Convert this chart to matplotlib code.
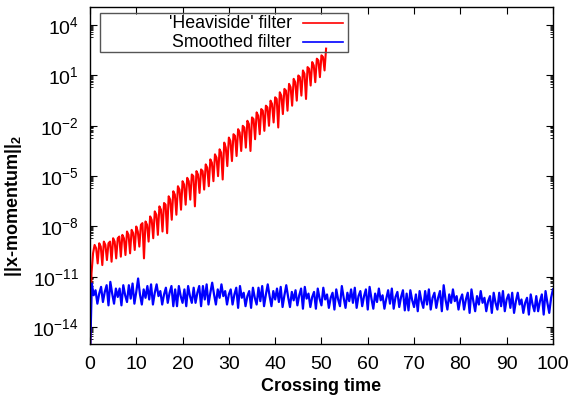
# Import libraries
import numpy as np
import matplotlib.pyplot as plt
from matplotlib.ticker import FixedLocator, LogFormatterMathtext, NullFormatter
from matplotlib.patches import Rectangle

plt.rcParams['font.family'] = ['Liberation Sans', 'DejaVu Sans']
plt.rcParams['mathtext.fontset'] = 'custom'
plt.rcParams['mathtext.rm'] = 'Liberation Sans'
plt.rcParams['mathtext.bf'] = 'Liberation Sans:bold'

# log10 of ||x-momentum||_2, 'Heaviside' filter (steps of 1/3 crossing time)
red_log10 = [
    -16.0, -10.8, -9.6,
    -9.1, -9.3, -10.2, -9.0, -9.2, -10.3, -8.9, -9.1, -10.0, -9.0, -8.9, -10.1, -8.7, -8.9, -9.9,
    -8.7, -8.6, -9.8, -8.5, -8.7, -9.7, -8.3, -8.5, -9.6, -8.2, -8.4, -9.4, -8.0, -8.3, -9.2,
    -7.9, -7.8, -9.9, -7.7, -7.9, -8.9, -7.4, -7.6, -8.7, -7.1, -7.3, -8.5, -6.8, -7.0, -8.3,
    -6.6, -6.7, -8.4, -6.2, -6.4, -7.6, -5.9, -6.1, -7.3, -5.6, -5.8, -7.0, -5.3, -5.5, -6.7,
    -5.1, -5.3, -6.4, -4.9, -5.0, -6.8, -4.7, -4.9, -6.0, -4.6, -4.7, -5.8, -4.3, -4.5, -5.6,
    -4.0, -4.2, -5.3, -3.7, -3.9, -5.0, -3.4, -3.6, -5.2, -3.0, -3.3, -4.4, -2.7, -2.9, -4.1,
    -2.5, -2.6, -3.8, -2.2, -2.4, -3.5, -2.0, -2.1, -3.3, -1.7, -1.9, -3.5, -1.5, -1.6, -2.8,
    -1.2, -1.4, -2.5, -1.0, -1.1, -2.3, -0.8, -0.9, -2.0, -0.5, -0.7, -1.8, -0.3, -0.4, -2.1,
    0.0, -0.2, -1.3, 0.2, 0.1, -1.1, 0.5, 0.3, -0.8, 0.8, 0.6, -0.5, 1.0, 0.9, -0.2,
    1.3, 1.1, -0.4, 1.5, 1.4, 0.4, 1.8, 1.6, 0.6, 2.0, 1.9, 0.9, 2.2, 2.1, 1.3,
    2.6,
]
red_end = 51

# log10 of ||x-momentum||_2, smoothed filter (steps of 0.4 crossing time)
blue_log10 = [
    -16.0,
    # 0 - 10
    -11.4, -12.1, -11.8, -12.6, -12.0, -11.6, -12.5, -11.9, -11.5, -12.7,
    -11.3, -12.0, -12.6, -11.7, -12.2, -11.7, -12.7, -11.5, -12.1, -12.5,
    -11.5, -12.3, -11.4, -12.6, -11.9,
    # 10 - 20
    -11.1, -12.05, -12.65, -11.75, -12.25, -11.55, -12.35, -11.45, -12.65, -11.95,
    -11.45, -12.15, -11.85, -12.65, -12.05, -11.65, -12.55, -11.95, -11.55, -12.75,
    -11.75, -12.75, -11.55, -12.15, -12.55,
    # 20 - 30
    -11.75, -12.75, -11.55, -12.15, -12.55, -11.65, -12.55, -11.95, -11.55, -12.75,
    -11.55, -12.35, -11.45, -12.65, -11.95, -11.35, -12.05, -12.65, -11.75, -12.25,
    -11.45, -12.15, -11.85, -12.65, -12.05,
    # 30 - 40
    -11.75, -12.65, -12.05, -11.65, -12.85, -11.55, -12.25, -11.95, -12.75, -12.15,
    -11.85, -12.85, -11.65, -12.25, -12.65, -11.65, -12.45, -11.55, -12.75, -12.05,
    -11.45, -12.15, -12.75, -11.85, -12.35,
    # 40 - 50
    -11.7, -12.5, -11.6, -12.8, -12.1, -11.5, -12.2, -12.8, -11.9, -12.4,
    -11.8, -12.7, -12.1, -11.7, -12.9, -11.6, -12.3, -12.0, -12.8, -12.2,
    -11.9, -12.9, -11.7, -12.3, -12.7,
    # 50 - 60
    -11.65, -12.35, -12.05, -12.85, -12.25, -11.95, -12.95, -11.75, -12.35, -12.75,
    -11.55, -12.25, -12.85, -11.95, -12.45, -11.75, -12.55, -11.65, -12.85, -12.15,
    -11.85, -12.75, -12.15, -11.75, -12.95,
    # 60 - 70
    -11.6, -12.3, -12.9, -12.0, -12.5, -11.7, -12.4, -12.1, -12.9, -12.3,
    -11.8, -12.6, -11.7, -12.9, -12.2, -11.9, -12.8, -12.2, -11.8, -13.0,
    -12.0, -13.0, -11.8, -12.4, -12.8,
    # 70 - 80
    -12.05, -13.05, -11.85, -12.45, -12.85, -11.85, -12.65, -11.75, -12.95, -12.25,
    -11.95, -12.85, -12.25, -11.85, -13.05, -11.5, -12.35, -12.95, -12.05, -12.55,
    -11.75, -12.45, -12.15, -12.95, -12.35,
    # 80 - 90
    -12.05, -12.95, -12.35, -11.95, -13.15, -11.75, -12.45, -13.05, -12.15, -12.65,
    -11.85, -12.55, -12.25, -13.05, -12.45, -12.15, -13.15, -11.95, -12.55, -12.95,
    -11.95, -12.75, -11.85, -13.05, -12.35,
    # 90 - 100
    -12.05, -12.85, -11.95, -13.15, -12.45, -11.95, -12.65, -12.35, -13.15, -12.55,
    -12.25, -13.25, -12.05, -12.65, -13.05, -12.15, -13.05, -12.45, -12.05, -13.25,
    -11.85, -12.55, -13.15, -12.25, -11.75,
]
blue_end = 100

y_major_exp = [-14, -11, -8, -5, -2, 1, 4]
x_ticks = [0, 10, 20, 30, 40, 50, 60, 70, 80, 90, 100]
labels = ["'Heaviside' filter", 'Smoothed filter']
colors = ['#ff0000', '#0000ff']

red = 10.0 ** np.array(red_log10)
blue = 10.0 ** np.array(blue_log10)
t_red = np.linspace(0, red_end, len(red))
t_blue = np.linspace(0, blue_end, len(blue))

fig = plt.figure(figsize=(5.73, 3.99), dpi=100)
ax = fig.add_axes([0.157, 0.138, 0.808, 0.844])

ax.plot(t_red, red, color=colors[0], lw=1.5)
ax.plot(t_blue, blue, color=colors[1], lw=1.6)

ax.set_yscale('log')
ax.set_xlim(0, 100)
ax.set_ylim(1e-15, 10 ** 5.07)

# gnuplot style ticks: inward, mirrored
major_vals = [10.0 ** e for e in y_major_exp]
minor_vals = [m * 10.0 ** (e - 1) for e in y_major_exp for m in range(2, 10)]
ax.yaxis.set_major_locator(FixedLocator(major_vals))
ax.yaxis.set_minor_locator(FixedLocator(minor_vals))
ax.yaxis.set_major_formatter(LogFormatterMathtext())
ax.yaxis.set_minor_formatter(NullFormatter())
ax.set_xticks(x_ticks)

ax.tick_params(which='both', direction='in', top=True, right=True, colors='black')
ax.tick_params(which='major', length=5, width=0.8, labelsize=14)
ax.tick_params(which='minor', length=2.5, width=0.6)
ax.tick_params(axis='x', pad=9)
ax.tick_params(axis='y', pad=8)
for s in ax.spines.values():
    s.set_linewidth(1.0)

ax.set_xlabel('Crossing time', fontsize=13, fontweight='bold', labelpad=3)
ax.set_ylabel(r'||x-momentum||$_\mathbf{2}$', fontsize=13, fontweight='bold')
ax.yaxis.set_label_coords(-0.142, 0.41)

# legend box, gnuplot style (text right-aligned, sample to its right)
ax.add_patch(Rectangle((0.022, 0.867), 0.535, 0.116, transform=ax.transAxes,
                       fill=False, edgecolor='#555555', lw=1.0, zorder=5))
for i, (lab, c) in enumerate(zip(labels, colors)):
    yy = 0.9525 - i * 0.0565
    ax.text(0.436, yy, lab, transform=ax.transAxes, ha='right', va='center',
            fontsize=12.8, zorder=6)
    ax.plot([0.46, 0.546], [yy, yy], transform=ax.transAxes, color=c, lw=1.2, zorder=6)

fig.savefig('out.png', dpi=100)
